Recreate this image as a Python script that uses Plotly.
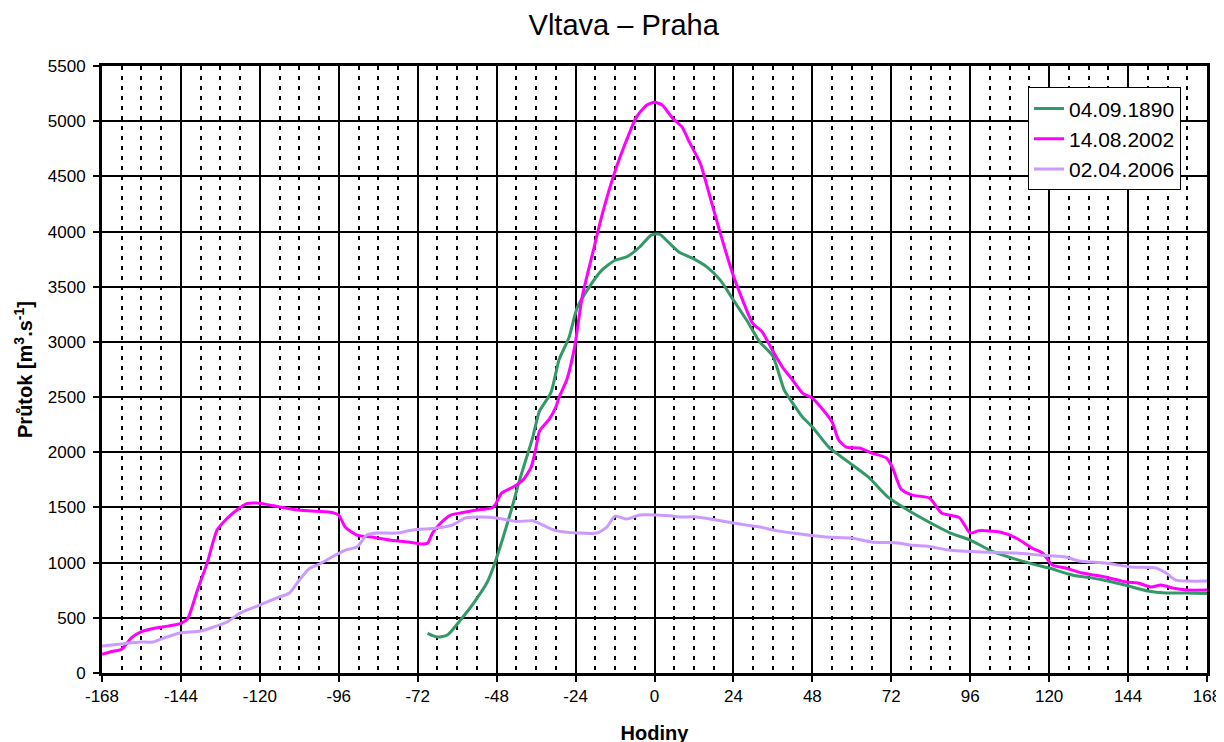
import plotly.graph_objects as go

# hodiny relativne ke kulminaci, prutok m3/s
h_1890 = [-69, -66, -63, -59, -55, -51, -48.5, -46, -43.5, -41, -37, -35, -31.5, -29, -26, -23.5, -20, -16, -12,
          -8.5, -4.5, -1, 1.5, 4.5, 7.5, 11.5, 16, 20, 24, 28, 32, 36, 39.5, 42, 45, 48, 53, 59, 65, 71, 77, 84,
          90, 96, 102.5, 110, 116, 120, 127, 135, 143, 150, 155.5, 162, 168]
q_1890 = [360, 326, 344, 480, 634, 815, 1000, 1232, 1480, 1750, 2138, 2370, 2540, 2840, 3040, 3310, 3490, 3650, 3740,
          3770, 3860, 3968, 3977, 3895, 3813, 3759, 3678, 3560, 3379, 3198, 3000, 2870, 2560, 2446, 2319, 2229, 2047,
          1911, 1776, 1594, 1477, 1359, 1268, 1205, 1105, 1030, 980, 951, 888, 851, 797, 743, 725, 725, 720]

h_2002 = [-168, -165, -162, -159, -156, -152, -148, -144, -142, -139, -136, -133, -130, -127, -124, -121, -118, -114,
          -109, -103, -98, -96, -94, -90.5, -85.5, -80.5, -75, -70.5, -69, -67.5, -65, -62, -59, -54, -49.5, -48.5,
          -46.5, -43, -40, -37.5, -36, -35, -32, -30, -29, -26.7, -24.3, -22, -18.8, -15.8, -12.2, -8.5, -5.5, -2.4,
          0, 2.4, 5.5, 8.4, 10.6, 13.9, 16.9, 20, 23.7, 26.8, 29.8, 32.8, 35.8, 38.9, 42, 45, 48, 50, 54, 56, 58.3,
          62.3, 66, 70.5, 72.3, 75, 78.4, 83.6, 87.3, 92.7, 96, 98.7, 105, 110, 114.8, 118, 121, 125, 130, 137,
          143.5, 147, 151, 154, 157.5, 162, 168]
q_2002 = [170, 195, 215, 320, 375, 405, 425, 450, 490, 750, 1000, 1295, 1400, 1477, 1535, 1540, 1528, 1505,
          1480, 1465, 1455, 1430, 1320, 1250, 1230, 1205, 1187, 1168, 1175, 1268, 1359, 1431, 1450, 1477, 1495, 1522,
          1630, 1685, 1749, 1866, 2047, 2190, 2300, 2410, 2500, 2654, 2953, 3406, 3804, 4166, 4529, 4828, 5037, 5145,
          5172, 5145, 5027, 4946, 4810, 4620, 4312, 3986, 3624, 3379, 3171, 3089, 2926, 2772, 2654, 2536, 2491, 2428,
          2274, 2111, 2047, 2038, 1993, 1948, 1866, 1665, 1612, 1585, 1450, 1408, 1268, 1290, 1277, 1223, 1132, 1087,
          978, 951, 906, 870, 824, 815, 779, 797, 770, 752, 752]

h_2006 = [-168, -162, -156.5, -152.5, -148.3, -144.3, -138, -134, -130, -126, -120, -115, -111, -108, -105, -101.7,
          -97, -94, -90.5, -87.5, -84.5, -78.5, -73.5, -66, -61.5, -57.5, -53, -47, -42, -37, -34, -30, -23, -17.5,
          -14.5, -12, -8.5, -4.5, 0.5, 5.5, 8, 12, 18, 24, 28, 32, 37, 42, 52, 60, 66, 74, 77.5, 82.5, 89.5, 99.5,
          110, 117, 125, 129, 137, 145, 152.5, 155.5, 158.5, 162.5, 168]
q_2006 = [245, 263, 281, 281, 326, 362, 380, 417, 462, 543, 616, 679, 725, 842, 945, 990,
          1069, 1114, 1141, 1250, 1268, 1268, 1295, 1314, 1341, 1404, 1413, 1400, 1372, 1380, 1341, 1290, 1268, 1268,
          1322, 1422, 1395, 1431, 1431, 1422, 1413, 1415, 1390, 1360, 1340, 1322, 1290, 1268, 1232, 1223, 1187, 1178,
          1160, 1150, 1114, 1096, 1087, 1069, 1051, 1015, 996, 960, 951, 906, 842, 833, 833]

# popisky osy x (obycejny spojovnik misto minus)
x_ticks = [-168, -144, -120, -96, -72, -48, -24, 0, 24, 48, 72, 96, 120, 144, 168]
x_labels = ["-168", "-144", "-120", "-96", "-72", "-48", "-24", "0", "24", "48", "72", "96", "120", "144", "168"]

serie = [
    ("04.09.1890", h_1890, q_1890, "#339966"),
    ("14.08.2002", h_2002, q_2002, "#FF00FF"),
    ("02.04.2006", h_2006, q_2006, "#CC99FF"),
]

fig = go.Figure()
for nazev, x, y, barva in serie:
    fig.add_trace(go.Scatter(
        x=x, y=y, name=nazev, mode="lines",
        line=dict(color=barva, width=3, shape="spline", smoothing=0.6),
    ))

# stranka ma okraj 8 px, okraje grafu jsou o nej posunute
fig.update_layout(
    width=1224,
    height=742,
    paper_bgcolor="white",
    plot_bgcolor="white",
    font=dict(family="Liberation Sans, Arial, sans-serif", size=17, color="black"),
    title=dict(text="Vltava \u2013 Praha", x=0.503, xanchor="center", y=0.977, yanchor="middle",
               font=dict(size=29)),
    margin=dict(l=94, r=25, t=58, b=77),
    legend=dict(
        x=0.838, y=0.965, xanchor="left", yanchor="top",
        bgcolor="white", bordercolor="black", borderwidth=1,
        font=dict(size=21),
    ),
)

fig.update_xaxes(
    range=[-168, 168], tickvals=x_ticks, ticktext=x_labels,
    automargin=False,
    showline=True, linecolor="black", linewidth=3, mirror=True,
    ticks="outside", ticklen=6, tickcolor="black", tickwidth=1.5,
    showgrid=True, gridcolor="black", gridwidth=1.5,
    zeroline=False,
    minor=dict(dtick=6, tick0=0, showgrid=True, gridcolor="black", gridwidth=2, griddash="4px,6px"),
    title=dict(text="<b>Hodiny</b>", font=dict(size=20), standoff=21),
)
fig.update_yaxes(
    range=[0, 5500], dtick=500,
    automargin=False,
    showline=True, linecolor="black", linewidth=3, mirror=True,
    ticks="outside", ticklen=6, tickcolor="black", tickwidth=1.5,
    ticklabelstandoff=4,
    showgrid=True, gridcolor="black", gridwidth=1.5,
    zeroline=False,
    title=dict(text="<b>Průtok [m<sup>3</sup>.s<sup>-1</sup>]</b>", font=dict(size=20), standoff=10),
)

fig.write_html("out.html")
